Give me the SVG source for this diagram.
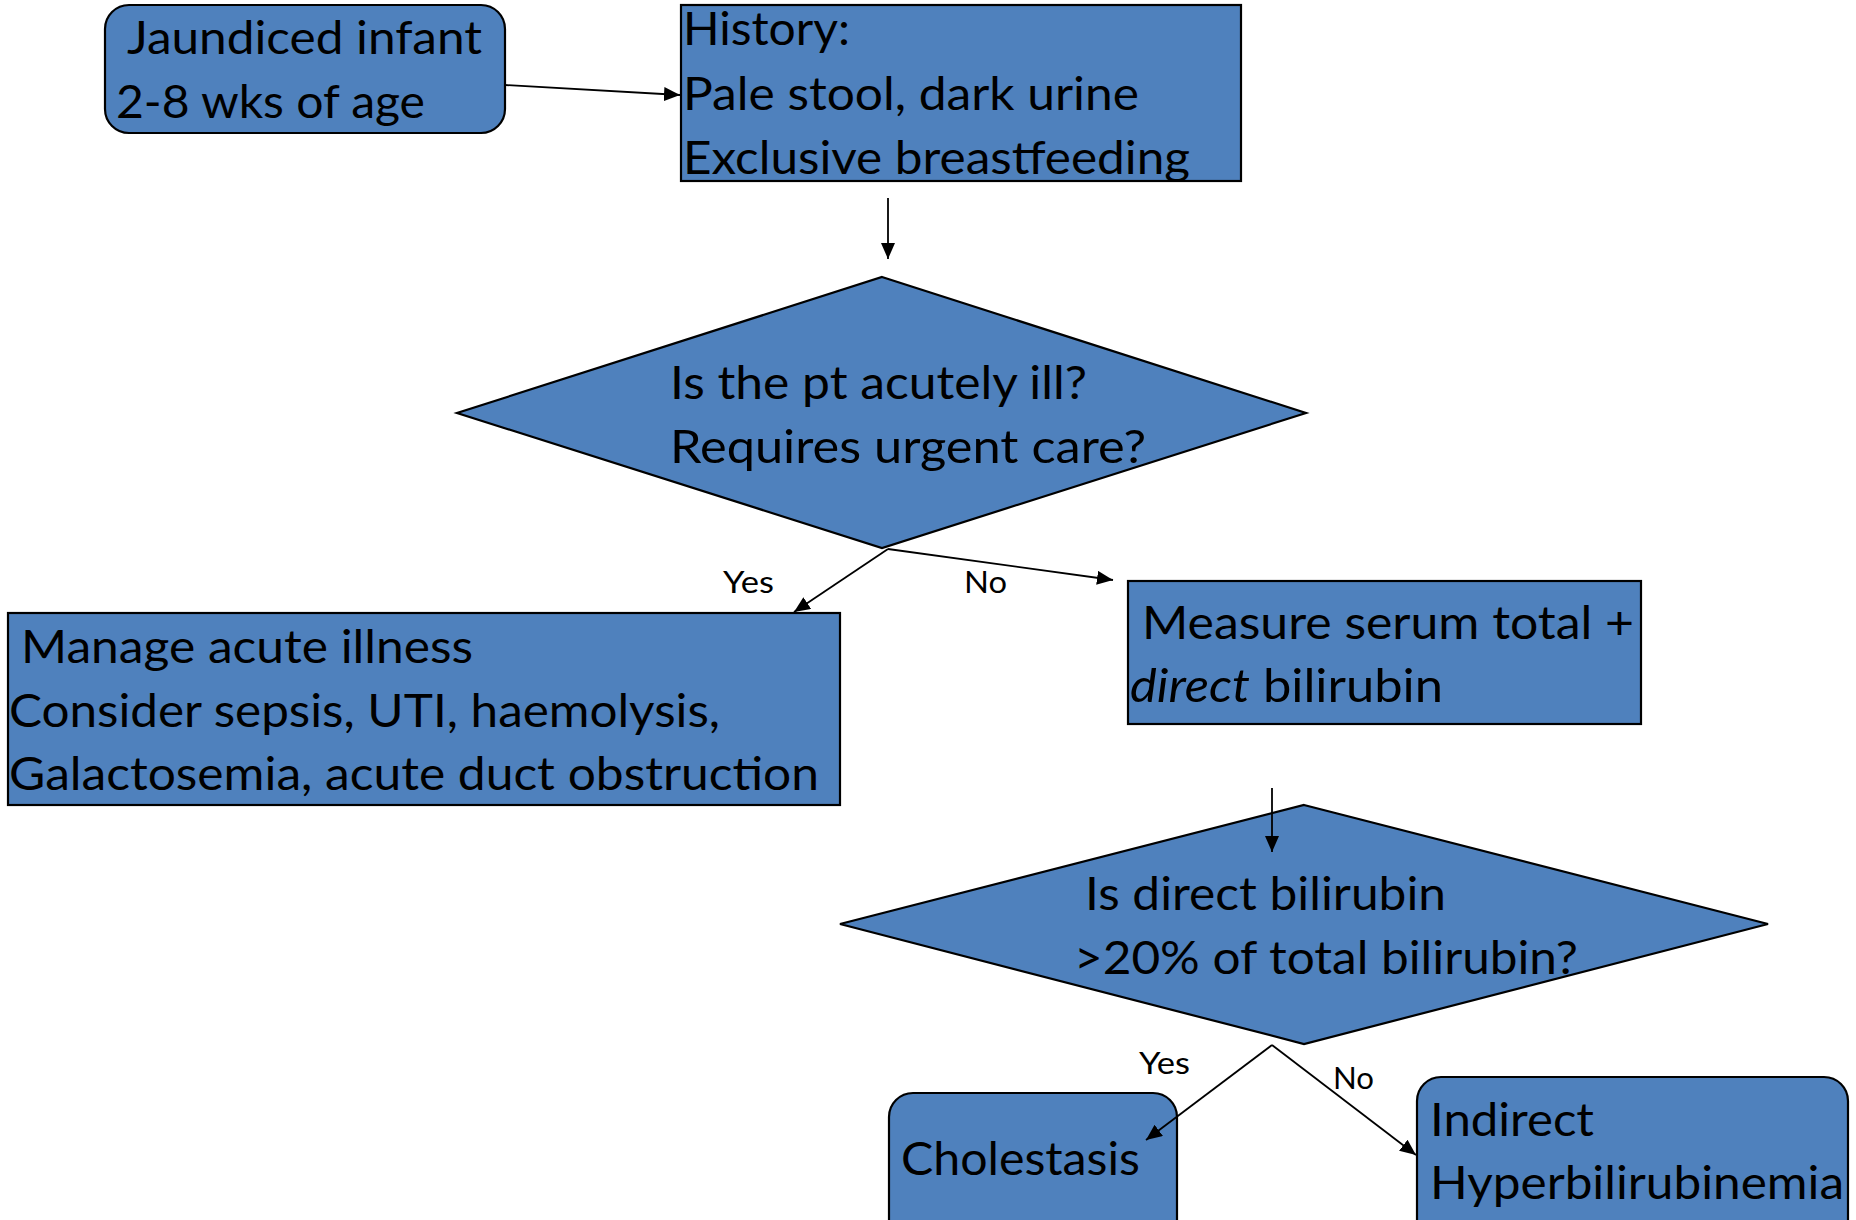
<svg xmlns="http://www.w3.org/2000/svg" width="1856" height="1220" viewBox="0 0 1856 1220">
<style>
.n{fill:#4F81BD;stroke:#000;stroke-width:2.2}
.t{font-family:Lato,"Open Sans",sans-serif;font-size:46px;fill:#000}
.s{font-family:Lato,"Open Sans",sans-serif;font-size:30px;fill:#000}
.c{stroke:#000;stroke-width:1.8;fill:none;marker-end:url(#ah)}
</style>
<defs>
<marker id="ah" markerUnits="userSpaceOnUse" markerWidth="18" markerHeight="14" refX="16" refY="7" orient="auto">
<path d="M0,0 L16,7 L0,14 Z" fill="#000"/>
</marker>
</defs>
<rect width="1856" height="1220" fill="#fff"/>
<g id="node-jaundiced">
<rect class="n" x="105" y="5" width="400" height="128" rx="24"/>
<text class="t" x="127" y="54" textLength="355" lengthAdjust="spacingAndGlyphs">Jaundiced infant</text>
<text class="t" x="116" y="118" textLength="309" lengthAdjust="spacingAndGlyphs">2-8 wks of age</text>
</g>
<g id="node-history">
<rect class="n" x="681" y="5" width="560" height="176"/>
<text class="t" x="683" y="45" textLength="167" lengthAdjust="spacingAndGlyphs">History:</text>
<text class="t" x="683" y="110" textLength="456" lengthAdjust="spacingAndGlyphs">Pale stool, dark urine</text>
<text class="t" x="683" y="174" textLength="507" lengthAdjust="spacingAndGlyphs">Exclusive breastfeeding</text>
</g>
<g id="node-acute">
<polygon class="n" points="882,277 1306,413 882,548 457,413"/>
<text class="t" x="670" y="399" textLength="417" lengthAdjust="spacingAndGlyphs">Is the pt acutely ill?</text>
<text class="t" x="670" y="463" textLength="476" lengthAdjust="spacingAndGlyphs">Requires urgent care?</text>
</g>
<g id="node-manage">
<rect class="n" x="8" y="613" width="832" height="192"/>
<text class="t" x="21" y="663" textLength="452" lengthAdjust="spacingAndGlyphs">Manage acute illness</text>
<text class="t" x="9" y="727" textLength="711" lengthAdjust="spacingAndGlyphs">Consider sepsis, UTI, haemolysis,</text>
<text class="t" x="9" y="790" textLength="810" lengthAdjust="spacingAndGlyphs">Galactosemia, acute duct obstruction</text>
</g>
<g id="node-measure">
<rect class="n" x="1128" y="581" width="513" height="143"/>
<text class="t" x="1142" y="639" textLength="492" lengthAdjust="spacingAndGlyphs">Measure serum total +</text>
<text class="t" x="1130" y="702" textLength="313" lengthAdjust="spacingAndGlyphs"><tspan font-style="italic">direct</tspan> bilirubin</text>
</g>
<g id="node-direct">
<polygon class="n" points="1304,805 1768,924 1304,1044 840,924"/>
<text class="t" x="1085" y="910" textLength="361" lengthAdjust="spacingAndGlyphs">Is direct bilirubin</text>
<text class="t" x="1074" y="974" textLength="504" lengthAdjust="spacingAndGlyphs">&gt;20% of total bilirubin?</text>
</g>
<g id="node-cholestasis">
<rect class="n" x="889" y="1093" width="288" height="160" rx="24"/>
<text class="t" x="901" y="1175" textLength="239" lengthAdjust="spacingAndGlyphs">Cholestasis</text>
</g>
<g id="node-indirect">
<rect class="n" x="1417" y="1077" width="431" height="176" rx="24"/>
<text class="t" x="1430" y="1136" textLength="164" lengthAdjust="spacingAndGlyphs">Indirect</text>
<text class="t" x="1430" y="1199" textLength="414" lengthAdjust="spacingAndGlyphs">Hyperbilirubinemia</text>
</g>
<g id="connectors">
<line class="c" x1="505" y1="85" x2="680" y2="95"/>
<line class="c" x1="888" y1="198" x2="888" y2="259"/>
<line class="c" x1="888" y1="549" x2="794" y2="612"/>
<line class="c" x1="888" y1="549" x2="1113" y2="580"/>
<line class="c" x1="1272" y1="788" x2="1272" y2="852"/>
<line class="c" x1="1272" y1="1045" x2="1146" y2="1140"/>
<line class="c" x1="1272" y1="1045" x2="1416" y2="1155"/>
<text class="s" x="723" y="593" textLength="51" lengthAdjust="spacingAndGlyphs">Yes</text>
<text class="s" x="964" y="593" textLength="43" lengthAdjust="spacingAndGlyphs">No</text>
<text class="s" x="1139" y="1074" textLength="51" lengthAdjust="spacingAndGlyphs">Yes</text>
<text class="s" x="1333" y="1089" textLength="41" lengthAdjust="spacingAndGlyphs">No</text>
</g>
</svg>
